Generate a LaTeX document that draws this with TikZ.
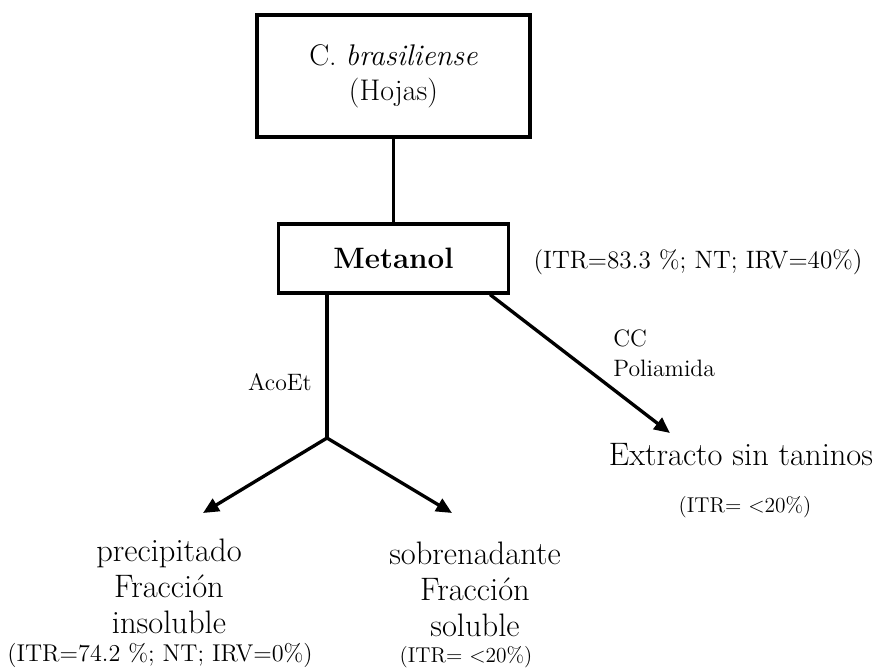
\documentclass[tikz,border=0pt]{standalone}
\usepackage{amsmath}
\usepackage{tikz}
\usetikzlibrary{arrows.meta,shadows}

\begin{document}
\begin{tikzpicture}
\tikzstyle{rectbox}=[rectangle,draw=black,line width=1.8pt,fill=white,drop shadow={shadow xshift=0.8pt,shadow yshift=-0.8pt,opacity=1,fill=black}]
\tikzstyle{bigtext}=[font=\fontsize{18.5}{20.5}\selectfont,align=center,inner sep=0pt]
\tikzstyle{steptext}=[font=\fontsize{13.5}{17}\selectfont,align=left,inner sep=0pt]
\tikzstyle{datatext}=[font=\fontsize{14}{16}\selectfont,inner sep=0pt]
\tikzstyle{link}=[line width=1.9pt]
\tikzstyle{arrowlink}=[line width=1.9pt,-{Triangle[length=9pt,width=8pt]}]
\useasboundingbox (0,0) rectangle (17.8,-13.4);
% boxes
\node[rectbox,minimum width=5.46cm,minimum height=2.44cm,align=center,font=\fontsize{17}{20}\selectfont] (hojas) at (7.87,-1.52) {C. \textit{brasiliense}\\(Hojas)};
\node[rectbox,minimum width=4.6cm,minimum height=1.38cm,font=\fontsize{16.8}{20}\selectfont\bfseries] (metanol) at (7.87,-5.17) {Metanol};
\node[datatext,font=\fontsize{14.3}{16}\selectfont] (itrmet) at (13.96,-5.24) {(ITR=83.3 \%; NT; IRV=40\%)};
% split points
\coordinate (split) at (6.54,-8.76);
\coordinate (tipins) at (4.06,-10.26);
\coordinate (tipsol) at (9.04,-10.26);
\coordinate (tipext) at (13.4,-8.66);
\node[steptext] (acoet) at (5.6,-7.64) {AcoEt};
\node[steptext,anchor=west] (cc) at (12.26,-7.06) {CC\\Poliamida};
% results
\node[bigtext] (extracto) at (14.82,-9.1) {Extracto sin taninos};
\node[datatext,font=\fontsize{12.2}{14}\selectfont] (itrext) at (14.9,-10.14) {(ITR= <20\%)};
\node[bigtext] (insol) at (3.38,-11.72) {precipitado\\Fracción\\insoluble};
\node[datatext,font=\fontsize{13.8}{16}\selectfont] (itrins) at (3.2,-13.1) {(ITR=74.2 \%; NT; IRV=0\%)};
\node[bigtext] (sol) at (9.5,-11.78) {sobrenadante\\Fracción\\soluble};
\node[datatext,font=\fontsize{12.2}{14}\selectfont] (itrsol) at (9.32,-13.14) {(ITR= <20\%)};
% connectors
\draw[link] (hojas.south) -- (metanol.north);
\draw[link] (split |- metanol.south) -- (split);
\draw[arrowlink] (split) -- (tipins);
\draw[arrowlink] (split) -- (tipsol);
\draw[arrowlink] ([xshift=-0.4cm]metanol.south east) -- (tipext);
\end{tikzpicture}
\end{document}
